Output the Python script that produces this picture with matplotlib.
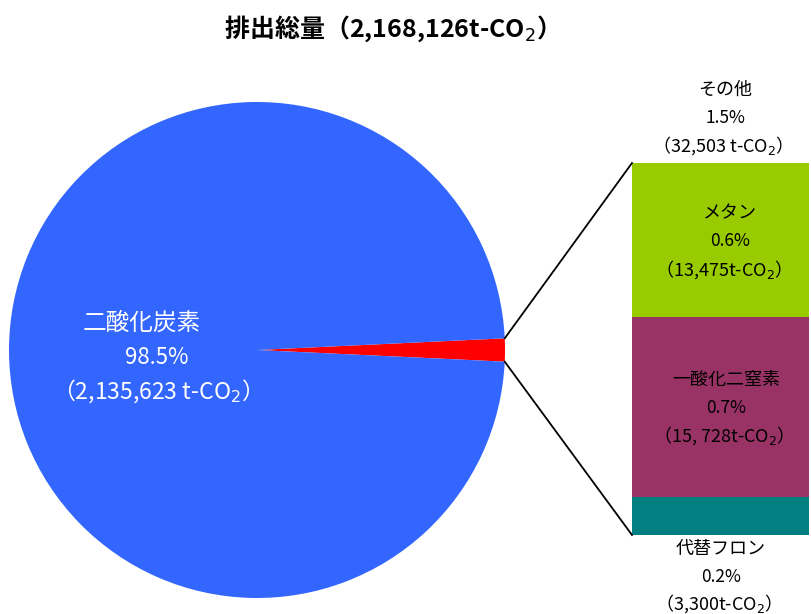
import matplotlib
matplotlib.use("Agg")
import matplotlib.pyplot as plt
import numpy as np

plt.rcParams['font.family'] = ['Noto Sans CJK JP', 'DejaVu Sans']

# Data
total_label = "排出総量（2,168,126t-CO$_2$）"
pie_labels = ["その他", "二酸化炭素"]
pie_values = [32503, 2135623]
pie_pct = ["1.5%", "98.5%"]
pie_amounts = ["（32,503 t-CO$_2$）", "（2,135,623 t-CO$_2$）"]
pie_colors = ["#FF0000", "#3366FF"]

bar_labels = ["代替フロン", "一酸化二窒素", "メタン"]
bar_values = [3300, 15728, 13475]
bar_pct = ["0.2%", "0.7%", "0.6%"]
bar_amounts = ["（3,300t-CO$_2$）", "（15, 728t-CO$_2$）", "（13,475t-CO$_2$）"]
bar_colors = ["#008080", "#993366", "#99CC00"]

W, H = 811, 614
fig = plt.figure(figsize=(W / 100, H / 100), dpi=100)
ax = fig.add_axes([0, 0, 1, 1])
ax.axis('off')

def Y(ypx):
    return H - ypx

# Pie
cx, cy, r = 257, Y(350), 248
other_deg = pie_values[0] / sum(pie_values) * 360
ax.pie(pie_values, colors=pie_colors, center=(cx, cy), radius=r,
       startangle=-other_deg / 2, counterclock=True,
       wedgeprops=dict(linewidth=0))
ax.set_xlim(0, W)
ax.set_ylim(0, H)
ax.set_aspect('equal')

# Bar
bx0, bw = 632, 177
btop, bbot = Y(163), Y(535)
scale = (btop - bbot) / sum(bar_values)
bottom = bbot
for v, c in zip(bar_values, bar_colors):
    ax.bar(bx0, v * scale, width=bw, bottom=bottom, color=c, align='edge', linewidth=0)
    bottom += v * scale

# Connector lines
a1 = np.deg2rad(other_deg / 2)
ax.plot([cx + r * np.cos(a1), bx0], [cy + r * np.sin(a1), btop], color='black', lw=1.3)
ax.plot([cx + r * np.cos(-a1), bx0], [cy + r * np.sin(-a1), bbot], color='black', lw=1.3)

# Title
ax.text(385, Y(29), total_label, ha='center', va='center', fontsize=18, fontweight='bold')

# CO2 label
ax.text(142, Y(323), pie_labels[1], ha='center', va='center', fontsize=17, color='white')
ax.text(157, Y(357), pie_pct[1], ha='center', va='center', fontsize=16, color='white')
ax.text(151, Y(391), pie_amounts[1], ha='center', va='center', fontsize=16.5, color='white')

# Other label
ax.text(725, Y(90), pie_labels[0], ha='center', va='center', fontsize=13)
ax.text(725, Y(118), pie_pct[0], ha='center', va='center', fontsize=12.5)
ax.text(718, Y(146), pie_amounts[0], ha='center', va='center', fontsize=13)

# Bar segment labels
label_ys = [(549, 577, 604), (380, 408, 436), (213, 241, 270)]
name_xs = [721, 726, 730]
amt_xs = [714, 719, 719]
for i in range(3):
    y1, y2, y3 = label_ys[i]
    ax.text(name_xs[i], Y(y1), bar_labels[i], ha='center', va='center', fontsize=13)
    ax.text(name_xs[i], Y(y2), bar_pct[i], ha='center', va='center', fontsize=12.5)
    ax.text(amt_xs[i], Y(y3), bar_amounts[i], ha='center', va='center', fontsize=13)

fig.savefig("out.png", dpi=100)
